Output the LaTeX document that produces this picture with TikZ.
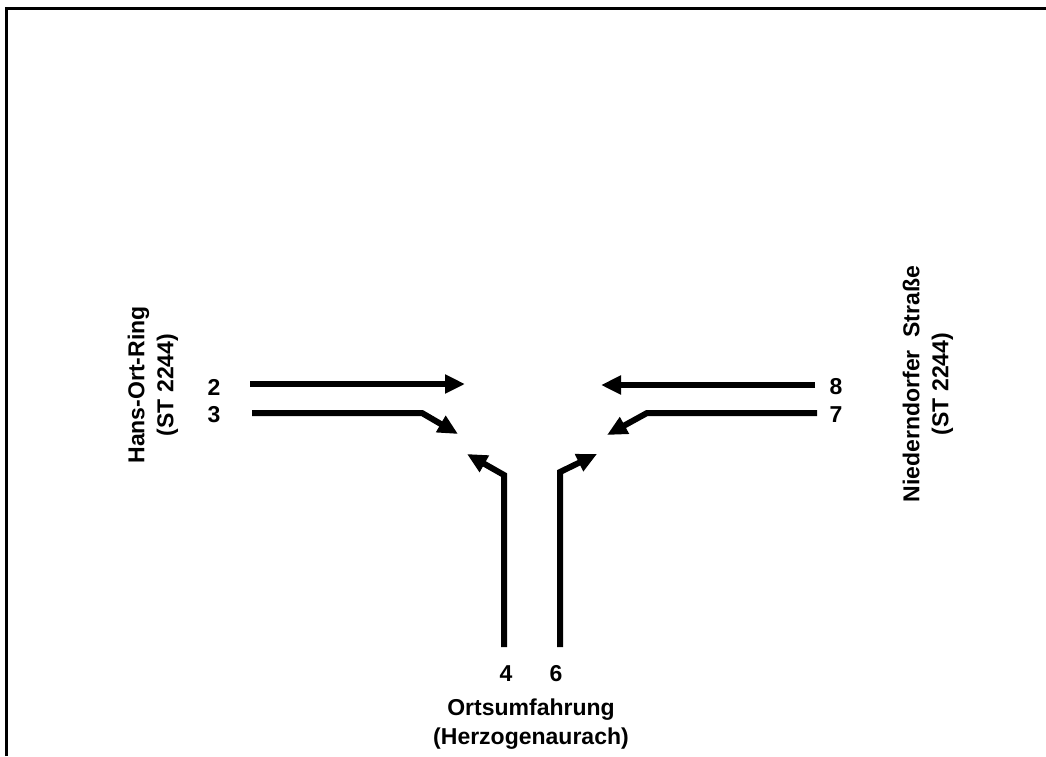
\documentclass[tikz,border=0pt]{standalone}
\usepackage{fontspec}
\setmainfont{Liberation Sans}
\usetikzlibrary{arrows.meta,positioning}

\tikzset{
	lane/.style={line width=6pt,-{Triangle[length=20pt,width=18pt]}},
	lanenum/.style={font=\fontsize{23}{29}\selectfont\bfseries},
	armname/.style={font=\fontsize{23}{29}\selectfont\bfseries,align=center},
}

\begin{document}
\begin{tikzpicture}[x=1pt,y=-1pt]
	\useasboundingbox (0,0) rectangle (1046,756);
	% frame (only top and left edge are inside the page)
	\draw[line width=3pt] (6.5,756) -- (6.5,8) -- (1046,8);

	% west arm: Hans-Ort-Ring
	\node[armname,rotate=90] (west) at (153,385) {Hans-Ort-Ring\\(ST 2244)};
	\node[lanenum] (n2) at (214,387) {2};
	\node[lanenum] (n3) at (214,415) {3};
	\coordinate (a2) at (250,384);
	\coordinate (b2) at (465,384);
	\coordinate (a3) at (252,413);
	\coordinate (k3) at (422,413);
	\coordinate (b3) at (458,434);
	\draw[lane] (a2) -- (b2);
	\draw[lane] (a3) -- (k3) -- (b3);

	% east arm: Niederndorfer Strasse
	\node[armname,rotate=90] (east) at (928,384) {Niederndorfer~~Straße\\(ST 2244)};
	\node[lanenum] (n8) at (836,387) {8};
	\node[lanenum] (n7) at (836,415) {7};
	\coordinate (a8) at (815,385);
	\coordinate (b8) at (601,385);
	\coordinate (a7) at (817,413);
	\coordinate (k7) at (647,413);
	\coordinate (b7) at (607,435);
	\draw[lane] (a8) -- (b8);
	\draw[lane] (a7) -- (k7) -- (b7);

	% south arm: Ortsumfahrung
	\node[lanenum] (n4) at (506,674) {4};
	\node[lanenum] (n6) at (556,674) {6};
	\node[armname,anchor=north] (south) at (531,695) {Ortsumfahrung\\(Herzogenaurach)};
	\coordinate (a4) at (504,647);
	\coordinate (k4) at (504,475);
	\coordinate (b4) at (467,454);
	\coordinate (a6) at (560,647);
	\coordinate (k6) at (560,472);
	\coordinate (b6) at (597,454);
	\draw[lane] (a4) -- (k4) -- (b4);
	\draw[lane] (a6) -- (k6) -- (b6);
\end{tikzpicture}
\end{document}
